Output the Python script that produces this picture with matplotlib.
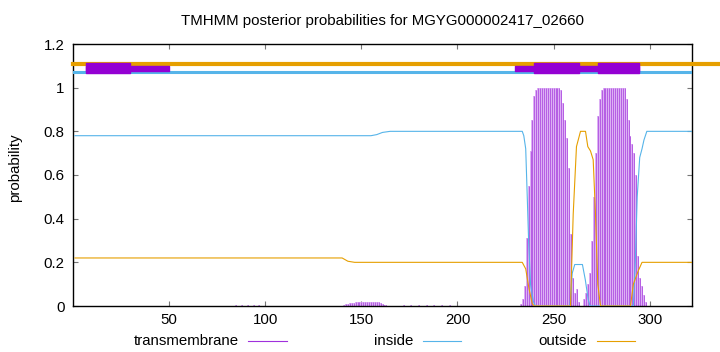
import matplotlib
matplotlib.use("Agg")
import matplotlib.pyplot as plt
from matplotlib.lines import Line2D

plt.rcParams['font.family'] = ['Liberation Sans', 'DejaVu Sans']

title = "TMHMM posterior probabilities for MGYG000002417_02660"
seq_len = 322

# inside probability, key points (residue, value)
inside_x = [1, 155, 158, 161, 165, 232, 233.7, 234.5, 235.5, 236.3, 237, 238, 239.5, 240.5,
            258.5, 259.7, 261, 265, 266.5, 268, 269,
            291.5, 292.5, 293.5, 294.8, 296, 297, 298.5, 322]
inside_y = [0.78, 0.78, 0.785, 0.795, 0.80, 0.80, 0.80, 0.78, 0.72, 0.50, 0.30, 0.10, 0.02, 0.0,
            0.0, 0.15, 0.19, 0.19, 0.12, 0.03, 0.0,
            0.0, 0.20, 0.50, 0.68, 0.72, 0.76, 0.80, 0.80]

# outside probability
outside_x = [1, 140, 143, 146.5, 232, 233.7, 235.5, 237.2, 238.9, 240,
             258.8, 260.2, 261.9, 264, 266.6, 267.8, 269.2, 270.6, 271.8, 273, 274.4,
             290, 291.5, 294, 296, 322]
outside_y = [0.22, 0.22, 0.205, 0.20, 0.20, 0.20, 0.17, 0.08, 0.01, 0.0,
             0.0, 0.42, 0.73, 0.80, 0.80, 0.73, 0.71, 0.67, 0.42, 0.10, 0.0,
             0.0, 0.10, 0.16, 0.20, 0.20]

# transmembrane probability per residue (zero where not listed)
tm_res = [85, 88, 91, 94, 97,
          141, 142, 143, 144, 145, 146, 147, 148, 149, 150, 151, 152, 153, 154, 155,
          156, 157, 158, 159, 160, 161, 162, 163,
          172, 176, 180, 184, 188, 192, 196,
          233, 234, 235, 236, 237, 238, 239, 240, 241, 242, 243, 244, 245, 246, 247,
          248, 249, 250, 251, 252, 253, 254, 255, 256, 257, 258, 259, 260, 261, 262, 263,
          266, 267, 268, 269, 270, 271, 272, 273, 274, 275, 276, 277, 278, 279, 280,
          281, 282, 283, 284, 285, 286, 287, 288, 289, 290, 291, 292, 293, 294, 295,
          296, 297, 298]
tm_val = [0.003, 0.003, 0.003, 0.003, 0.003,
          0.004, 0.007, 0.010, 0.012, 0.014, 0.016, 0.018, 0.018, 0.018, 0.018, 0.018,
          0.018, 0.018, 0.018, 0.018, 0.018, 0.018, 0.018, 0.017, 0.015, 0.008, 0.005, 0.003,
          0.003, 0.003, 0.003, 0.003, 0.003, 0.003, 0.003,
          0.01, 0.03, 0.09, 0.31, 0.55, 0.71, 0.85, 0.96, 0.99, 1.0, 1.0, 1.0, 1.0, 1.0, 1.0,
          1.0, 1.0, 1.0, 1.0, 1.0, 1.0, 0.99, 0.93, 0.85, 0.77, 0.63, 0.33, 0.13, 0.06, 0.08, 0.02,
          0.03, 0.06, 0.10, 0.15, 0.30, 0.50, 0.70, 0.87, 0.95, 0.99, 1.0, 1.0, 1.0, 1.0, 1.0,
          1.0, 1.0, 1.0, 1.0, 1.0, 1.0, 1.0, 0.95, 0.85, 0.78, 0.74, 0.70, 0.60, 0.23, 0.13,
          0.09, 0.05, 0.02]

# topology strip above the plot: (start, length)
strip_thick = [(7, 22.5), (240, 23), (273, 21.6)]
strip_thin = [(7, 43), (230, 64.6)]

purple = '#9400d3'
light_purple = '#dcaef4'
blue = '#56b4e9'
orange = '#e69f00'
fs = 10.8

fig = plt.figure(figsize=(7.2, 3.52), dpi=100)
ax = fig.add_axes([73 / 720, 1 - 306 / 352, (692 - 73) / 720, (306 - 44) / 352])

# impulses: a light band per residue with a thin dark stroke on top
ax.vlines(tm_res, 0, tm_val, color=light_purple, lw=1.4, zorder=2)
ax.vlines(tm_res, 0, tm_val, color='#a030dc', lw=0.45, zorder=2)
ax.plot(inside_x, inside_y, color=blue, lw=0.8, zorder=3)
ax.plot(outside_x, outside_y, color=orange, lw=0.8, zorder=3)

# top strip
ax.axhline(1.108, xmin=0, xmax=(720 - 73) / (692 - 73), color=orange, lw=3, clip_on=False, zorder=3)
ax.axhline(1.071, color=blue, lw=2.2, zorder=3)
ax.broken_barh(strip_thin, (1.076, 0.024), color=purple, zorder=4)
ax.broken_barh(strip_thick, (1.067, 0.048), color=purple, zorder=4)

ax.set_xlim(0, seq_len)
ax.set_ylim(0, 1.2)
ax.set_xticks([50, 100, 150, 200, 250, 300])
ax.set_yticks([0, 0.2, 0.4, 0.6, 0.8, 1.0, 1.2])
ax.set_yticklabels(['0', '0.2', '0.4', '0.6', '0.8', '1', '1.2'])
ax.tick_params(direction='in', length=3.5, width=0.8, color='#777777',
               top=True, right=True, labelsize=fs, labelcolor='black')
ax.tick_params(axis='y', pad=6)
ax.tick_params(axis='x', pad=5)
for sp in ax.spines.values():
    sp.set_color('black')
    sp.set_linewidth(1)

fig.text(382.5 / 720, 1 - 21 / 352, title, ha='center', va='center', fontsize=fs)
fig.text(15 / 720, 1 - 168 / 352, 'probability', rotation=90, ha='center', va='center', fontsize=fs)

# legend along the bottom
legend_items = [('transmembrane', '#a030dc', 239, 248, 287),
                ('inside', blue, 413, 423, 461),
                ('outside', orange, 587, 597, 635)]
ly = 1 - 341 / 352
for name, col, tx, x0, x1 in legend_items:
    fig.text(tx / 720, ly, name, ha='right', va='center', fontsize=fs)
    fig.add_artist(Line2D([x0 / 720, x1 / 720], [ly, ly], color=col, lw=0.8))

fig.savefig('out.png', dpi=100)
